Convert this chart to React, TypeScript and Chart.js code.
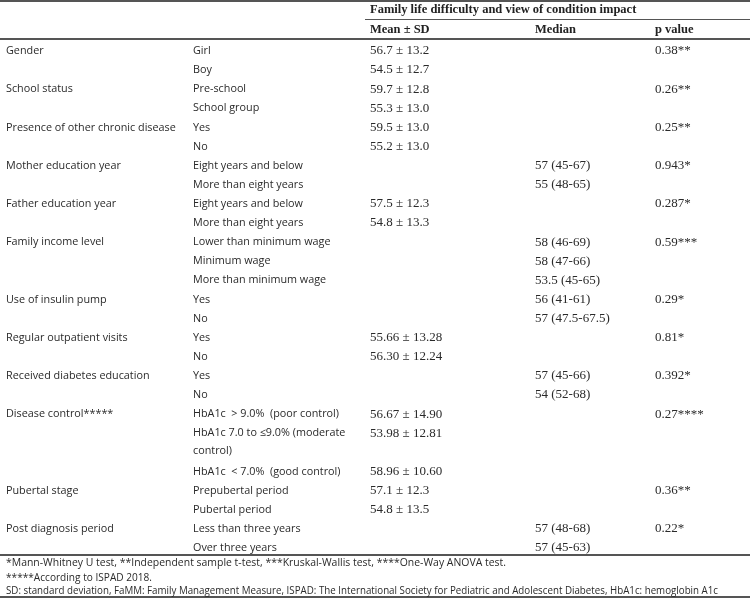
import React, { useEffect, useRef } from "react";
import { Chart, registerables } from "chart.js";

Chart.register(...registerables);

const headerTitle = "Family life difficulty and view of condition impact";
const columnHeaders = ["Mean ± SD", "Median", "p value"];

const variables = [
  "Gender", "", "School status", "", "Presence of other chronic disease", "",
  "Mother education year", "", "Father education year", "",
  "Family income level", "", "", "Use of insulin pump", "",
  "Regular outpatient visits", "", "Received diabetes education", "",
  "Disease control*****", "", "", "Pubertal stage", "", "Post diagnosis period", "",
];

const groups = [
  "Girl", "Boy", "Pre-school", "School group", "Yes", "No",
  "Eight years and below", "More than eight years",
  "Eight years and below", "More than eight years",
  "Lower than minimum wage", "Minimum wage", "More than minimum wage",
  "Yes", "No", "Yes", "No", "Yes", "No",
  "HbA1c  > 9.0%  (poor control)", "HbA1c 7.0 to ≤9.0% (moderate\ncontrol)", "HbA1c  < 7.0%  (good control)",
  "Prepubertal period", "Pubertal period", "Less than three years", "Over three years",
];

const means = [
  "56.7 ± 13.2", "54.5 ± 12.7", "59.7 ± 12.8", "55.3 ± 13.0", "59.5 ± 13.0", "55.2 ± 13.0",
  "", "", "57.5 ± 12.3", "54.8 ± 13.3", "", "", "", "", "",
  "55.66 ± 13.28", "56.30 ± 12.24", "", "",
  "56.67 ± 14.90", "53.98 ± 12.81", "58.96 ± 10.60",
  "57.1 ± 12.3", "54.8 ± 13.5", "", "",
];

const medians = [
  "", "", "", "", "", "", "57 (45-67)", "55 (48-65)", "", "",
  "58 (46-69)", "58 (47-66)", "53.5 (45-65)", "56 (41-61)", "57 (47.5-67.5)",
  "", "", "57 (45-66)", "54 (52-68)", "", "", "", "", "", "57 (48-68)", "57 (45-63)",
];

const pValues = [
  "0.38**", "", "0.26**", "", "0.25**", "", "0.943*", "", "0.287*", "",
  "0.59***", "", "", "0.29*", "", "0.81*", "", "0.392*", "",
  "0.27****", "", "", "0.36**", "", "0.22*", "",
];

const footnotes = [
  "*Mann-Whitney U test, **Independent sample t-test, ***Kruskal-Wallis test, ****One-Way ANOVA test.",
  "*****According to ISPAD 2018.",
  "SD: standard deviation, FaMM: Family Management Measure, ISPAD: The International Society for Pediatric and Adolescent Diabetes, HbA1c: hemoglobin A1c",
];

// layout (in scale units)
const COL_X = [6, 193, 370, 535, 655];
const HEADER_Y = [-2.1, -1.08];
const FOOT_Y = [26.86, 27.6, 28.32];
const FOOT_W = [500, 146, 712];

function rowUnits(): number[] {
  const out: number[] = [];
  let u = 0;
  for (let i = 0; i < groups.length; i++) {
    out.push(u);
    u += groups[i].includes("\n") ? 2 : 1;
  }
  return out;
}

const tablePlugin = {
  id: "tableText",
  afterDraw(chart: any) {
    const { ctx, scales } = chart;
    const xs = scales.x;
    const ys = scales.y;
    const X = (v: number) => xs.getPixelForValue(v);
    const Y = (v: number) => ys.getPixelForValue(v);
    const W = chart.width;
    ctx.save();
    ctx.textBaseline = "middle";
    ctx.textAlign = "left";

    // rules
    ctx.strokeStyle = "#555";
    const hline = (y: number, x0: number, x1: number, lw: number) => {
      ctx.lineWidth = lw;
      ctx.beginPath();
      ctx.moveTo(x0, y);
      ctx.lineTo(x1, y);
      ctx.stroke();
    };
    hline(Math.round(Y(-2.6)) + 1, 0, W, 2);
    hline(Math.round(Y(-1.6)) + 0.5, X(365), W, 1);
    hline(Math.round(Y(-0.58)), 0, W, 2);
    hline(Math.round(Y(26.42)), 0, W, 2);
    hline(Math.round(Y(28.62)), 0, W, 2);

    // header
    ctx.fillStyle = "#222";
    ctx.font = "bold 12.5px 'Liberation Serif'";
    ctx.fillText(headerTitle, X(COL_X[2]), Y(HEADER_Y[0]));
    for (let c = 0; c < 3; c++) {
      ctx.fillText(columnHeaders[c], X(COL_X[c + 2]), Y(HEADER_Y[1]));
    }

    const units = rowUnits();
    ctx.fillStyle = "#2a2a2a";
    for (let i = 0; i < groups.length; i++) {
      const y = Y(units[i] + 0.05);
      ctx.font = "10.8px 'Open Sans'";
      if (variables[i]) ctx.fillText(variables[i], X(COL_X[0]), y);
      const lines = groups[i].split("\n");
      lines.forEach((ln, k) => ctx.fillText(ln, X(COL_X[1]), Y(units[i] + 0.05 + k * 0.9)));
      ctx.font = "13px 'Liberation Serif'";
      if (means[i]) ctx.fillText(means[i], X(COL_X[2]), y);
      if (medians[i]) ctx.fillText(medians[i], X(COL_X[3]), y);
      if (pValues[i]) ctx.fillText(pValues[i], X(COL_X[4]), y);
    }

    ctx.font = "10.5px 'Open Sans'";
    footnotes.forEach((f, k) => {
      ctx.fillText(f, X(COL_X[0]), Y(FOOT_Y[k]), FOOT_W[k]);
    });
    ctx.restore();
  },
};

export default function App() {
  const ref = useRef<HTMLCanvasElement | null>(null);
  useEffect(() => {
    document.body.style.margin = "0";
    const canvas = ref.current;
    if (!canvas) return;
    const units = rowUnits();
    const chart = new Chart(canvas, {
      type: "scatter",
      data: {
        datasets: [
          {
            label: "rows",
            data: units.map((u) => ({ x: 0, y: u })),
            pointRadius: 0,
            showLine: false,
          },
        ],
      },
      options: {
        animation: false,
        responsive: false,
        devicePixelRatio: 1,
        layout: { padding: 0 },
        plugins: { legend: { display: false }, tooltip: { enabled: false } },
        scales: {
          x: { type: "linear", min: 0, max: 750, display: false },
          y: { type: "linear", min: -2.616, max: 28.668, reverse: true, display: false },
        },
      },
      plugins: [tablePlugin],
    });
    return () => chart.destroy();
  }, []);
  return (
    <div style={{ width: 750, height: 598, background: "#fff" }}>
      <canvas ref={ref} width={750} height={598} style={{ display: "block" }} />
    </div>
  );
}
